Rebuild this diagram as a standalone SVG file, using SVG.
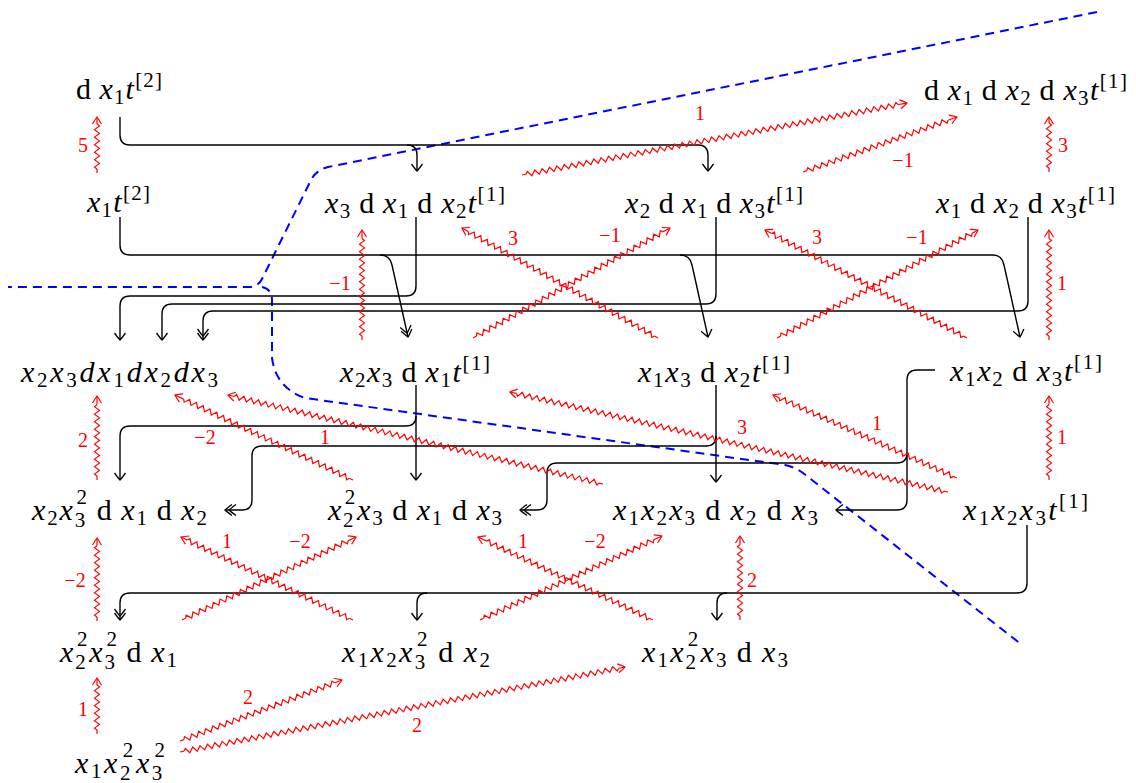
<svg xmlns="http://www.w3.org/2000/svg" width="1136" height="783" viewBox="0 0 1136 783">
<style>
.t{font-family:"Liberation Serif","Times New Roman",serif;font-size:30px;fill:#000}
.i{font-style:italic}
.s{font-size:21px}
.k{fill:none;stroke:#000;stroke-width:1.4}
.r{fill:none;stroke:#f00;stroke-width:1.2}
.rl{font-family:"Liberation Serif","Times New Roman",serif;font-size:20px;fill:#f00;text-anchor:middle}
.bl{fill:none;stroke:#00f;stroke-width:2;stroke-dasharray:9 6}
</style>
<defs>
<path id="zz" d="M0,0l1.875-2.5 3.75 5 3.75-5 3.75 5 3.75-5 3.75 5 3.75-5 3.75 5 3.75-5 3.75 5 3.75-5 3.75 5 3.75-5 3.75 5 3.75-5 3.75 5 3.75-5 3.75 5 3.75-5 3.75 5 3.75-5 3.75 5 3.75-5 3.75 5 3.75-5 3.75 5 3.75-5 3.75 5 3.75-5 3.75 5 3.75-5 3.75 5 3.75-5 3.75 5 3.75-5 3.75 5 3.75-5 3.75 5 3.75-5 3.75 5 3.75-5 3.75 5 3.75-5 3.75 5 3.75-5 3.75 5 3.75-5 3.75 5 3.75-5 3.75 5 3.75-5 3.75 5 3.75-5 3.75 5 3.75-5 3.75 5 3.75-5 3.75 5 3.75-5 3.75 5 3.75-5 3.75 5 3.75-5 3.75 5 3.75-5 3.75 5 3.75-5 3.75 5 3.75-5 3.75 5 3.75-5 3.75 5 3.75-5 3.75 5 3.75-5 3.75 5 3.75-5 3.75 5 3.75-5 3.75 5 3.75-5 3.75 5 3.75-5 3.75 5 3.75-5 3.75 5 3.75-5 3.75 5 3.75-5 3.75 5 3.75-5 3.75 5 3.75-5 3.75 5 3.75-5 3.75 5 3.75-5 3.75 5 3.75-5 3.75 5 3.75-5 3.75 5 3.75-5 3.75 5 3.75-5 3.75 5 3.75-5 3.75 5 3.75-5 3.75 5 3.75-5 3.75 5 3.75-5 3.75 5 3.75-5 3.75 5 3.75-5 3.75 5 3.75-5 3.75 5 3.75-5 3.75 5 3.75-5 3.75 5 3.75-5 3.75 5 3.75-5 3.75 5 3.75-5 3.75 5 1.875-2.5"/>
<path id="ah" d="M-7,-4.5Q-2,-1.5 0,0Q-2,1.5-7,4.5"/>
<marker id="to" viewBox="-12 -8 14 16" refX="0" refY="0" markerWidth="14" markerHeight="16" markerUnits="userSpaceOnUse" orient="auto" overflow="visible"><path d="M-7,-5.5Q-1.5,-1.5 0,0Q-1.5,1.5-7,5.5" fill="none" stroke="#000" stroke-width="1.3"/></marker>
<marker id="too" viewBox="-16 -8 18 16" refX="0" refY="0" markerWidth="18" markerHeight="16" markerUnits="userSpaceOnUse" orient="auto" overflow="visible"><path d="M-7,-5.5Q-1.5,-1.5 0,0Q-1.5,1.5-7,5.5M-11,-5.5Q-5.5,-1.5-4,0Q-5.5,1.5-11,5.5" fill="none" stroke="#000" stroke-width="1.3"/></marker>
</defs>

<g id="divider">
<path class="bl" d="M1097,12L328,167Q316,170 311,180L262,279Q258,287 249,287H8"/>
<path class="bl" d="M262,287Q272,289 272,300V358Q276,388 305,398L785,465Q795,467 803,473L1022,645"/>
</g>

<g id="connectors">
<path class="k" d="M120,117V135Q120,145 130,145H698Q708,145 708,155V171" marker-end="url(#to)"/>
<path class="k" d="M407,145Q417,145 417,155V171" marker-end="url(#to)"/>
<path class="k" d="M120,217V245Q120,255 130,255H993Q1002,255 1004,265L1020,337" marker-end="url(#to)"/>
<path class="k" d="M380,255Q390,255 392,265L408,337" marker-end="url(#too)"/>
<path class="k" d="M680,255Q690,255 692,265L708,337" marker-end="url(#to)"/>
<path class="k" d="M416,217V286Q416,296 406,296H130Q120,296 120,306V340" marker-end="url(#to)"/>
<path class="k" d="M716,217V294Q716,304 706,304H172Q162,304 162,314V340" marker-end="url(#to)"/>
<path class="k" d="M1028,217V301Q1028,311 1018,311H213Q203,311 203,321V340" marker-end="url(#too)"/>
<path class="k" d="M416,385V480" marker-end="url(#to)"/>
<path class="k" d="M416,416Q416,426 406,426H130Q120,426 120,436V480" marker-end="url(#to)"/>
<path class="k" d="M716,385V482" marker-end="url(#to)"/>
<path class="k" d="M716,436Q716,446 706,446H262Q252,446 252,456V500Q252,510 242,510H225" marker-end="url(#too)"/>
<path class="k" d="M935,370H917Q907,370 907,380V500Q907,510 897,510H836" marker-end="url(#to)"/>
<path class="k" d="M907,453Q907,463 897,463H557Q547,463 547,473V500Q547,510 537,510H520" marker-end="url(#too)"/>
<path class="k" d="M1027,525V583Q1027,593 1017,593H130Q120,593 120,603V620" marker-end="url(#too)"/>
<path class="k" d="M427,593Q417,593 417,603V620" marker-end="url(#to)"/>
<path class="k" d="M727,593Q717,593 717,603V620" marker-end="url(#to)"/>

<g class="r">
<g transform="translate(97,173) rotate(-90)"><path d="M0,0H4M49,0H56"/><use href="#zz" x="4" stroke-dasharray="75 2000"/><use href="#ah" x="56"/></g>
<g transform="translate(362,340) rotate(-90)"><path d="M0,0H4M101.5,0H110"/><use href="#zz" x="4" stroke-dasharray="162.5 2000"/><use href="#ah" x="110"/></g>
<g transform="translate(1049,172) rotate(-90)"><path d="M0,0H4M49,0H55"/><use href="#zz" x="4" stroke-dasharray="75 2000"/><use href="#ah" x="55"/></g>
<g transform="translate(1049,340) rotate(-90)"><path d="M0,0H4M101.5,0H110"/><use href="#zz" x="4" stroke-dasharray="162.5 2000"/><use href="#ah" x="110"/></g>
<g transform="translate(97,480) rotate(-90)"><path d="M0,0H4M75.25,0H84"/><use href="#zz" x="4" stroke-dasharray="118.75 2000"/><use href="#ah" x="84"/></g>
<g transform="translate(1049,480) rotate(-90)"><path d="M0,0H4M75.25,0H84"/><use href="#zz" x="4" stroke-dasharray="118.75 2000"/><use href="#ah" x="84"/></g>
<g transform="translate(97,621) rotate(-90)"><path d="M0,0H4M75.25,0H83"/><use href="#zz" x="4" stroke-dasharray="118.75 2000"/><use href="#ah" x="83"/></g>
<g transform="translate(740,620) rotate(-90)"><path d="M0,0H4M75.25,0H84"/><use href="#zz" x="4" stroke-dasharray="118.75 2000"/><use href="#ah" x="84"/></g>
<g transform="translate(97,734) rotate(-90)"><path d="M0,0H4M49,0H56"/><use href="#zz" x="4" stroke-dasharray="75 2000"/><use href="#ah" x="56"/></g>
<g transform="translate(522,175) rotate(-10.59)"><path d="M0,0H4M382.75,0H391.7"/><use href="#zz" x="4" stroke-dasharray="631.25 2000"/><use href="#ah" x="391.7"/></g>
<g transform="translate(803,172) rotate(-19.65)"><path d="M0,0H4M154,0H163.5"/><use href="#zz" x="4" stroke-dasharray="250 2000"/><use href="#ah" x="163.5"/></g>
<g transform="translate(658,338) rotate(-150.7)"><path d="M0,0H4M217.75,0H224.8"/><use href="#zz" x="4" stroke-dasharray="356.25 2000"/><use href="#ah" x="224.8"/></g>
<g transform="translate(473,338) rotate(-29.18)"><path d="M0,0H4M217.75,0H225.6"/><use href="#zz" x="4" stroke-dasharray="356.25 2000"/><use href="#ah" x="225.6"/></g>
<g transform="translate(967,338) rotate(-151.87)"><path d="M0,0H4M221.5,0H229.1"/><use href="#zz" x="4" stroke-dasharray="362.5 2000"/><use href="#ah" x="229.1"/></g>
<g transform="translate(777,338) rotate(-28.25)"><path d="M0,0H4M221.5,0H228.2"/><use href="#zz" x="4" stroke-dasharray="362.5 2000"/><use href="#ah" x="228.2"/></g>
<g transform="translate(353,480) rotate(-154.48)"><path d="M0,0H4M187.75,0H197.3"/><use href="#zz" x="4" stroke-dasharray="306.25 2000"/><use href="#ah" x="197.3"/></g>
<g transform="translate(603,484) rotate(-166.65)"><path d="M0,0H4M379,0H385.4"/><use href="#zz" x="4" stroke-dasharray="625 2000"/><use href="#ah" x="385.4"/></g>
<g transform="translate(948,492) rotate(-167.14)"><path d="M0,0H4M442.75,0H449.3"/><use href="#zz" x="4" stroke-dasharray="731.25 2000"/><use href="#ah" x="449.3"/></g>
<g transform="translate(957,478) rotate(-155.72)"><path d="M0,0H4M195.25,0H201.9"/><use href="#zz" x="4" stroke-dasharray="318.75 2000"/><use href="#ah" x="201.9"/></g>
<g transform="translate(182,620) rotate(-25.5)"><path d="M0,0H4M184,0H192.8"/><use href="#zz" x="4" stroke-dasharray="300 2000"/><use href="#ah" x="192.8"/></g>
<g transform="translate(353,620) rotate(-154.24)"><path d="M0,0H4M184,0H191"/><use href="#zz" x="4" stroke-dasharray="300 2000"/><use href="#ah" x="191"/></g>
<g transform="translate(480,620) rotate(-24.78)"><path d="M0,0H4M191.5,0H200.4"/><use href="#zz" x="4" stroke-dasharray="312.5 2000"/><use href="#ah" x="200.4"/></g>
<g transform="translate(653,620) rotate(-154.62)"><path d="M0,0H4M184,0H193.7"/><use href="#zz" x="4" stroke-dasharray="300 2000"/><use href="#ah" x="193.7"/></g>
<g transform="translate(180,741) rotate(-20.63)"><path d="M0,0H4M165.25,0H173.1"/><use href="#zz" x="4" stroke-dasharray="268.75 2000"/><use href="#ah" x="173.1"/></g>
<g transform="translate(180,752) rotate(-10.81)"><path d="M0,0H4M446.5,0H453"/><use href="#zz" x="4" stroke-dasharray="737.5 2000"/><use href="#ah" x="453"/></g>
</g>

<g id="labels">
<text class="rl" x="83" y="152">5</text>
<text class="rl" x="340" y="290">−1</text>
<text class="rl" x="1063" y="152">3</text>
<text class="rl" x="1062" y="290">1</text>
<text class="rl" x="83" y="447">2</text>
<text class="rl" x="1062" y="444">1</text>
<text class="rl" x="75" y="587">−2</text>
<text class="rl" x="752" y="587">2</text>
<text class="rl" x="83" y="716">1</text>
<text class="rl" x="700" y="120">1</text>
<text class="rl" x="903" y="167">−1</text>
<text class="rl" x="513" y="245">3</text>
<text class="rl" x="610" y="242">−1</text>
<text class="rl" x="817" y="244">3</text>
<text class="rl" x="917" y="244">−1</text>
<text class="rl" x="205" y="444">−2</text>
<text class="rl" x="325" y="444">1</text>
<text class="rl" x="742" y="434">3</text>
<text class="rl" x="877" y="430">1</text>
<text class="rl" x="300" y="548">−2</text>
<text class="rl" x="227" y="548">1</text>
<text class="rl" x="595" y="548">−2</text>
<text class="rl" x="523" y="548">1</text>
<text class="rl" x="248" y="704">2</text>
<text class="rl" x="417" y="732">2</text>
</g>
</g>

<g id="n1"><text class="t" x="76" y="99" textLength="86" lengthAdjust="spacing">d&#8201;<tspan class="i">x</tspan><tspan class="s" dy="5">1</tspan><tspan class="i" dy="-5">t</tspan><tspan class="s" dy="-12">[2]</tspan></text></g>
<g id="n2"><text class="t" x="924" y="100" textLength="203" lengthAdjust="spacing">d&#8201;<tspan class="i">x</tspan><tspan class="s" dy="5">1</tspan><tspan dy="-5">&#8201;d&#8201;</tspan><tspan class="i">x</tspan><tspan class="s" dy="5">2</tspan><tspan dy="-5">&#8201;d&#8201;</tspan><tspan class="i">x</tspan><tspan class="s" dy="5">3</tspan><tspan class="i" dy="-5">t</tspan><tspan class="s" dy="-12">[1]</tspan></text></g>
<g id="n3"><text class="t" x="87" y="212" textLength="63" lengthAdjust="spacing"><tspan class="i">x</tspan><tspan class="s" dy="5">1</tspan><tspan class="i" dy="-5">t</tspan><tspan class="s" dy="-12">[2]</tspan></text></g>
<g id="n4"><text class="t" x="325" y="213" textLength="180" lengthAdjust="spacing"><tspan class="i">x</tspan><tspan class="s" dy="5">3</tspan><tspan dy="-5">&#8201;d&#8201;</tspan><tspan class="i">x</tspan><tspan class="s" dy="5">1</tspan><tspan dy="-5">&#8201;d&#8201;</tspan><tspan class="i">x</tspan><tspan class="s" dy="5">2</tspan><tspan class="i" dy="-5">t</tspan><tspan class="s" dy="-12">[1]</tspan></text></g>
<g id="n5"><text class="t" x="625" y="213" textLength="178" lengthAdjust="spacing"><tspan class="i">x</tspan><tspan class="s" dy="5">2</tspan><tspan dy="-5">&#8201;d&#8201;</tspan><tspan class="i">x</tspan><tspan class="s" dy="5">1</tspan><tspan dy="-5">&#8201;d&#8201;</tspan><tspan class="i">x</tspan><tspan class="s" dy="5">3</tspan><tspan class="i" dy="-5">t</tspan><tspan class="s" dy="-12">[1]</tspan></text></g>
<g id="n6"><text class="t" x="936" y="213" textLength="179" lengthAdjust="spacing"><tspan class="i">x</tspan><tspan class="s" dy="5">1</tspan><tspan dy="-5">&#8201;d&#8201;</tspan><tspan class="i">x</tspan><tspan class="s" dy="5">2</tspan><tspan dy="-5">&#8201;d&#8201;</tspan><tspan class="i">x</tspan><tspan class="s" dy="5">3</tspan><tspan class="i" dy="-5">t</tspan><tspan class="s" dy="-12">[1]</tspan></text></g>
<g id="n7"><text class="t" x="21" y="382" textLength="197" lengthAdjust="spacing"><tspan class="i">x</tspan><tspan class="s" dy="5">2</tspan><tspan class="i" dy="-5">x</tspan><tspan class="s" dy="5">3</tspan><tspan class="i" dy="-5">dx</tspan><tspan class="s" dy="5">1</tspan><tspan class="i" dy="-5">dx</tspan><tspan class="s" dy="5">2</tspan><tspan class="i" dy="-5">dx</tspan><tspan class="s" dy="5">3</tspan></text></g>
<g id="n8"><text class="t" x="340" y="382" textLength="150" lengthAdjust="spacing"><tspan class="i">x</tspan><tspan class="s" dy="5">2</tspan><tspan class="i" dy="-5">x</tspan><tspan class="s" dy="5">3</tspan><tspan dy="-5">&#8201;d&#8201;</tspan><tspan class="i">x</tspan><tspan class="s" dy="5">1</tspan><tspan class="i" dy="-5">t</tspan><tspan class="s" dy="-12">[1]</tspan></text></g>
<g id="n9"><text class="t" x="638" y="382" textLength="152" lengthAdjust="spacing"><tspan class="i">x</tspan><tspan class="s" dy="5">1</tspan><tspan class="i" dy="-5">x</tspan><tspan class="s" dy="5">3</tspan><tspan dy="-5">&#8201;d&#8201;</tspan><tspan class="i">x</tspan><tspan class="s" dy="5">2</tspan><tspan class="i" dy="-5">t</tspan><tspan class="s" dy="-12">[1]</tspan></text></g>
<g id="n10"><text class="t" x="950" y="381" textLength="152" lengthAdjust="spacing"><tspan class="i">x</tspan><tspan class="s" dy="5">1</tspan><tspan class="i" dy="-5">x</tspan><tspan class="s" dy="5">2</tspan><tspan dy="-5">&#8201;d&#8201;</tspan><tspan class="i">x</tspan><tspan class="s" dy="5">3</tspan><tspan class="i" dy="-5">t</tspan><tspan class="s" dy="-12">[1]</tspan></text></g>
<g id="n11"><text class="t" x="32" y="520" textLength="175" lengthAdjust="spacing"><tspan class="i">x</tspan><tspan class="s" dy="5">2</tspan><tspan class="i" dy="-5">x</tspan><tspan class="s" dy="7">3</tspan><tspan class="s" dx="-10.5" dy="-23">2</tspan><tspan dy="16">&#8201;d&#8201;</tspan><tspan class="i">x</tspan><tspan class="s" dy="5">1</tspan><tspan dy="-5">&#8201;d&#8201;</tspan><tspan class="i">x</tspan><tspan class="s" dy="5">2</tspan></text></g>
<g id="n12"><text class="t" x="328" y="520" textLength="174" lengthAdjust="spacing"><tspan class="i">x</tspan><tspan class="s" dy="7">2</tspan><tspan class="s" dx="-10.5" dy="-23">2</tspan><tspan class="i" dy="16">x</tspan><tspan class="s" dy="5">3</tspan><tspan dy="-5">&#8201;d&#8201;</tspan><tspan class="i">x</tspan><tspan class="s" dy="5">1</tspan><tspan dy="-5">&#8201;d&#8201;</tspan><tspan class="i">x</tspan><tspan class="s" dy="5">3</tspan></text></g>
<g id="n13"><text class="t" x="613" y="520" textLength="205" lengthAdjust="spacing"><tspan class="i">x</tspan><tspan class="s" dy="5">1</tspan><tspan class="i" dy="-5">x</tspan><tspan class="s" dy="5">2</tspan><tspan class="i" dy="-5">x</tspan><tspan class="s" dy="5">3</tspan><tspan dy="-5">&#8201;d&#8201;</tspan><tspan class="i">x</tspan><tspan class="s" dy="5">2</tspan><tspan dy="-5">&#8201;d&#8201;</tspan><tspan class="i">x</tspan><tspan class="s" dy="5">3</tspan></text></g>
<g id="n14"><text class="t" x="963" y="520" textLength="125" lengthAdjust="spacing"><tspan class="i">x</tspan><tspan class="s" dy="5">1</tspan><tspan class="i" dy="-5">x</tspan><tspan class="s" dy="5">2</tspan><tspan class="i" dy="-5">x</tspan><tspan class="s" dy="5">3</tspan><tspan class="i" dy="-5">t</tspan><tspan class="s" dy="-12">[1]</tspan></text></g>
<g id="n15"><text class="t" x="60" y="662" textLength="117" lengthAdjust="spacing"><tspan class="i">x</tspan><tspan class="s" dy="7">2</tspan><tspan class="s" dx="-10.5" dy="-23">2</tspan><tspan class="i" dy="16">x</tspan><tspan class="s" dy="7">3</tspan><tspan class="s" dx="-10.5" dy="-23">2</tspan><tspan dy="16">&#8201;d&#8201;</tspan><tspan class="i">x</tspan><tspan class="s" dy="5">1</tspan></text></g>
<g id="n16"><text class="t" x="342" y="662" textLength="148" lengthAdjust="spacing"><tspan class="i">x</tspan><tspan class="s" dy="5">1</tspan><tspan class="i" dy="-5">x</tspan><tspan class="s" dy="5">2</tspan><tspan class="i" dy="-5">x</tspan><tspan class="s" dy="7">3</tspan><tspan class="s" dx="-10.5" dy="-23">2</tspan><tspan dy="16">&#8201;d&#8201;</tspan><tspan class="i">x</tspan><tspan class="s" dy="5">2</tspan></text></g>
<g id="n17"><text class="t" x="642" y="662" textLength="146" lengthAdjust="spacing"><tspan class="i">x</tspan><tspan class="s" dy="5">1</tspan><tspan class="i" dy="-5">x</tspan><tspan class="s" dy="7">2</tspan><tspan class="s" dx="-10.5" dy="-23">2</tspan><tspan class="i" dy="16">x</tspan><tspan class="s" dy="5">3</tspan><tspan dy="-5">&#8201;d&#8201;</tspan><tspan class="i">x</tspan><tspan class="s" dy="5">3</tspan></text></g>
<g id="n18"><text class="t" x="75" y="773" textLength="90" lengthAdjust="spacing"><tspan class="i">x</tspan><tspan class="s" dy="5">1</tspan><tspan class="i" dy="-5">x</tspan><tspan class="s" dy="7">2</tspan><tspan class="s" dx="-10.5" dy="-23">2</tspan><tspan class="i" dy="16">x</tspan><tspan class="s" dy="7">3</tspan><tspan class="s" dx="-10.5" dy="-23">2</tspan></text></g>
</svg>
